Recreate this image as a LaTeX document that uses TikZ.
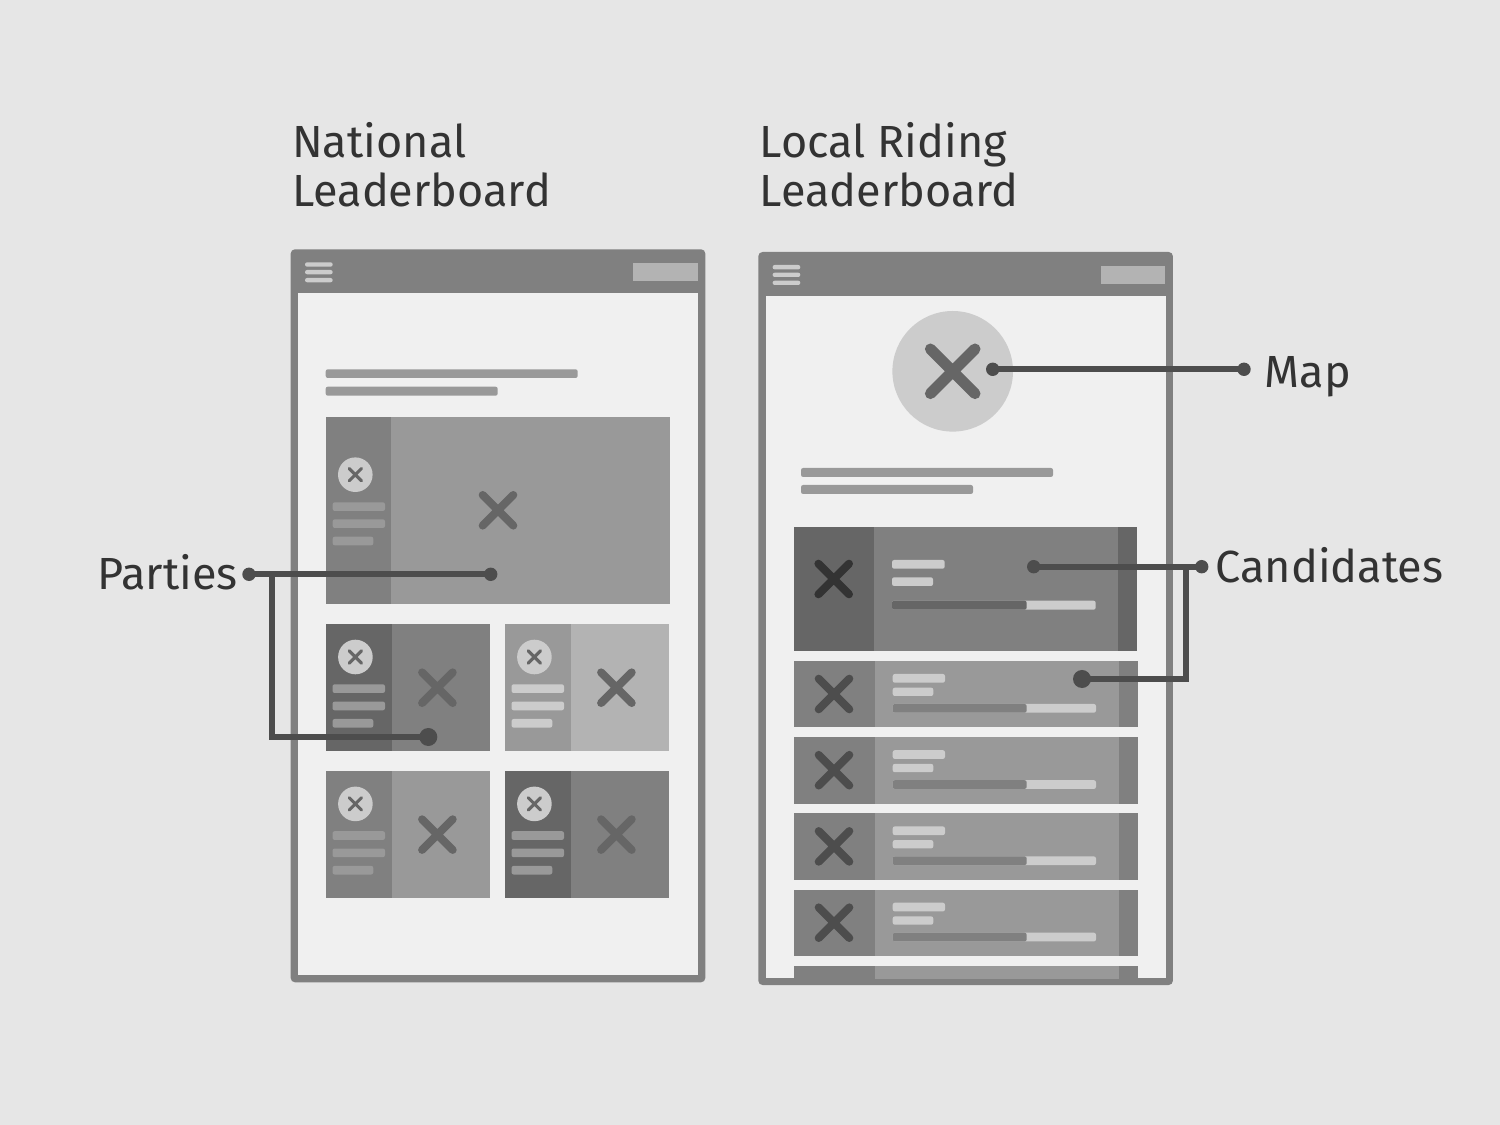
\documentclass[tikz,border=0pt]{standalone}
\usepackage{fontspec}
\setmainfont{Fira Sans}
\usepackage{tikz}
\definecolor{pagebg}{HTML}{E6E6E6}
\definecolor{screen}{HTML}{F0F0F0}
\definecolor{g33}{HTML}{333333}
\definecolor{g4d}{HTML}{4D4D4D}
\definecolor{g66}{HTML}{666666}
\definecolor{g80}{HTML}{808080}
\definecolor{g99}{HTML}{999999}
\definecolor{gb3}{HTML}{B3B3B3}
\definecolor{gcc}{HTML}{CCCCCC}
\tikzset{bar/.style={rounded corners=0.6pt}}
\tikzset{xbig/.style={line width=0.08cm,line cap=round}}
\tikzset{xsmall/.style={line width=0.031cm,line cap=round}}
\tikzset{xmap/.style={line width=0.11cm,line cap=round}}
\tikzset{leader/.style={draw=g4d,line width=0.06cm}}
\tikzset{dot/.style={circle,fill=g4d,inner sep=0pt,outer sep=0pt,minimum width=0.134cm}}
\tikzset{bigdot/.style={circle,fill=g4d,inner sep=0pt,outer sep=0pt,minimum width=0.18cm}}
\tikzset{lab/.style={inner sep=0pt,text=g33,font=\fontsize{12.8}{14.05}\selectfont,align=left}}
% phone frame with header
\newcommand{\phone}[2]{
	\begin{scope}[shift={(#1,#2)}]
		\fill[g80,rounded corners=1.2pt] (0,0) rectangle (414.6,733);
		\fill[screen] (7.4,44) rectangle (407.3,725.6);
		\fill[gcc,bar] (14.3,13) rectangle (42,17.4);
		\fill[gcc,bar] (14.3,20.7) rectangle (42,25);
		\fill[gcc,bar] (14.3,28.7) rectangle (42,33);
		\fill[gb3] (342.6,13.7) rectangle (407,31.7);
	\end{scope}}
\newcommand{\crossat}[5]{
	\draw[#5,#4] (#1-#3,#2-#3) -- (#1+#3,#2+#3) (#1-#3,#2+#3) -- (#1+#3,#2-#3);}
% small party card: x, y, side, main, bars
\newcommand{\partycard}[5]{
	\begin{scope}[shift={(#1,#2)}]
		\fill[#4] (0,0) rectangle (164.3,126.7);
		\fill[#3] (0,0) rectangle (66,126.7);
		\fill[gcc] (29.4,32.7) circle (17.3);
		\crossat{29.4}{32.7}{6.2}{g66}{xsmall}
		\fill[#5,bar] (6.5,60) rectangle (59,68.7);
		\fill[#5,bar] (6.5,77.3) rectangle (59,86);
		\fill[#5,bar] (6.5,94.7) rectangle (47.3,103.3);
		\crossat{111.4}{63.4}{15.3}{g66}{xbig}
	\end{scope}}
% candidate row body: y
\newcommand{\riderow}[1]{
	\begin{scope}[shift={(794,#1)}]
		\fill[g99] (0,0) rectangle (343.5,66.3);
		\fill[g80] (0,0) rectangle (80.7,66.3);
		\fill[g80] (324.7,0) rectangle (343.5,66.3);
		\crossat{40}{33}{15.3}{g4d}{xbig}
		\fill[gcc,bar] (98.7,13) rectangle (151,21.7);
		\fill[gcc,bar] (98.7,26.7) rectangle (139.3,35);
		\fill[gcc,bar] (98.7,43) rectangle (302,51.7);
		\fill[g80,bar] (98.7,43) rectangle (232.7,51.7);
	\end{scope}}
\begin{document}
\begin{tikzpicture}[x=0.01cm,y=-0.01cm]
	\useasboundingbox (0,0) rectangle (1500,1125);
	\fill[pagebg] (0,0) rectangle (1500,1125);
	% national screen
	\phone{290.7}{249.3}
	\fill[g99,bar] (325.7,369.3) rectangle (577.7,378);
	\fill[g99,bar] (325.7,386.7) rectangle (497.7,395.7);
	\fill[g99] (325.7,417) rectangle (669.5,603.7);
	\fill[g80] (325.7,417) rectangle (391,603.7);
	\fill[gcc] (355.3,474.7) circle (17.3);
	\crossat{355.3}{474.7}{6.2}{g66}{xsmall}
	\fill[g99,bar] (332.7,502.3) rectangle (385,511);
	\fill[g99,bar] (332.7,519.3) rectangle (385,528);
	\fill[g99,bar] (332.7,536.7) rectangle (373.3,545.3);
	\crossat{498}{510.3}{15.3}{g66}{xbig}
	\partycard{326}{624.3}{g66}{g80}{g99}
	\partycard{505}{624.3}{g99}{gb3}{gcc}
	\partycard{326}{771.2}{g80}{g99}{g99}
	\partycard{505}{771.2}{g66}{g80}{g99}
	% local screen
	\phone{758.3}{252}
	\fill[gcc] (952.7,371.3) circle (60.3);
	\crossat{952.7}{371.3}{22.3}{g66}{xmap}
	\fill[g99,bar] (801,468) rectangle (1053,477);
	\fill[g99,bar] (801,485) rectangle (973,494);
	\fill[g80] (793.7,527) rectangle (1137.3,651);
	\fill[g66] (793.7,527) rectangle (874,651);
	\fill[g66] (1118,527) rectangle (1137.3,651);
	\crossat{833.7}{579}{15.3}{g33}{xbig}
	\fill[gcc,bar] (892,560) rectangle (944.7,568.7);
	\fill[gcc,bar] (892,577.3) rectangle (933,586);
	\fill[gcc,bar] (892,600.7) rectangle (1095.7,609.7);
	\fill[g66,bar] (892,600.7) rectangle (1026.7,609.7);
	\foreach \rowy in {661,737.2,813.4,889.7}
		\riderow{\rowy}
	\fill[g99] (874.7,966) rectangle (1118.7,979.3);
	\fill[g80] (794,966) rectangle (874.7,979.3);
	\fill[g80] (1118.7,966) rectangle (1137.5,979.3);
	% titles
	\node[lab,anchor=north west] (national) at (291.5,121.5) {National\\Leaderboard};
	\node[lab,anchor=north west] (local) at (759,121.5) {Local Riding\\Leaderboard};
	% call outs
	\node[dot] (partiesdot) at (249,574.3) {};
	\node[dot] (partiesbig) at (490.7,574.3) {};
	\node[bigdot] (partiessmall) at (428.3,737) {};
	\node[lab,anchor=base east] (parties) at (238.5,590) {Parties};
	\coordinate (partiesfork) at (272.3,574.3);
	\coordinate (partieselbow) at (272.3,737);
	\draw[leader] (partiesdot.center) -- (partiesbig.center);
	\draw[leader] (partiesfork) -- (partieselbow) -- (partiessmall.center);
	\node[dot] (mapin) at (992.7,369.3) {};
	\node[dot] (mapout) at (1244,369.3) {};
	\node[lab,anchor=base west] (map) at (1264,387.5) {Map};
	\draw[leader] (mapin.center) -- (mapout.center);
	\node[dot] (candout) at (1201.7,566.7) {};
	\node[dot] (candtop) at (1033.7,566.7) {};
	\node[bigdot] (candrow) at (1082,679) {};
	\node[lab,anchor=base west] (candidates) at (1215,583) {Candidates};
	\coordinate (candfork) at (1186,566.7);
	\coordinate (candelbow) at (1186,679);
	\draw[leader] (candtop.center) -- (candout.center);
	\draw[leader] (candfork) -- (candelbow) -- (candrow.center);
\end{tikzpicture}
\end{document}
